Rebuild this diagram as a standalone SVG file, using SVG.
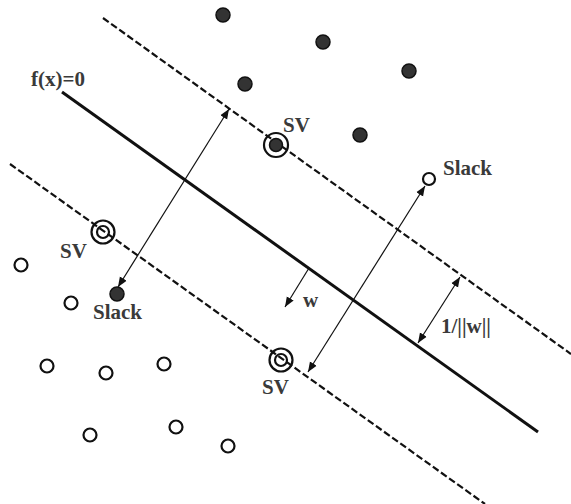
<svg xmlns="http://www.w3.org/2000/svg" width="571" height="504" viewBox="0 0 571 504">
<defs>
<marker id="ah" viewBox="0 0 10 10" refX="10" refY="5" markerWidth="10" markerHeight="10" markerUnits="userSpaceOnUse" orient="auto-start-reverse">
<path d="M0,1 L10,5 L0,9 Z" fill="#111"/>
</marker>
<style>
.lbl{font-family:"Liberation Serif","Times New Roman",serif;font-weight:bold;font-size:21px;fill:#3a3a3a}
.dash{stroke:#111;stroke-width:2.2;stroke-dasharray:7,3;fill:none}
.solid{stroke:#111;stroke-width:3;fill:none}
.arr{stroke:#111;stroke-width:1.2;fill:none}
.pos{fill:#333;stroke:#111;stroke-width:1.5}
.neg{fill:#fff;stroke:#111;stroke-width:2.2}
.ring{fill:none;stroke:#111;stroke-width:2.2}
</style>
</defs>
<g id="lines">
<line class="dash" x1="103" y1="18" x2="571" y2="354"/>
<line class="solid" x1="62" y1="92" x2="538" y2="432"/>
<line class="dash" x1="10" y1="164" x2="485" y2="504"/>
</g>
<g id="connectors">
<line class="arr" x1="229" y1="109" x2="118" y2="287" marker-start="url(#ah)" marker-end="url(#ah)"/>
<line class="arr" x1="425" y1="186" x2="308" y2="372" marker-start="url(#ah)" marker-end="url(#ah)"/>
<line class="arr" x1="309" y1="268" x2="285" y2="307" marker-end="url(#ah)"/>
<line class="arr" x1="460" y1="277" x2="418" y2="343" marker-start="url(#ah)" marker-end="url(#ah)"/>
</g>
<g id="positives">
<circle class="pos" cx="223" cy="15" r="7"/>
<circle class="pos" cx="323" cy="42" r="7"/>
<circle class="pos" cx="409" cy="71" r="7"/>
<circle class="pos" cx="245" cy="84" r="7"/>
<circle class="pos" cx="360" cy="135" r="7"/>
<circle class="pos" cx="117" cy="294" r="7"/>
</g>
<g id="negatives">
<circle class="neg" cx="429" cy="179" r="6"/>
<circle class="neg" cx="21" cy="265" r="6.5"/>
<circle class="neg" cx="71" cy="303" r="6.5"/>
<circle class="neg" cx="47" cy="366" r="6.5"/>
<circle class="neg" cx="106" cy="373" r="6.5"/>
<circle class="neg" cx="164" cy="364" r="6.5"/>
<circle class="neg" cx="90" cy="435" r="6.5"/>
<circle class="neg" cx="176" cy="427" r="6.5"/>
<circle class="neg" cx="228" cy="446" r="6.5"/>
</g>
<g id="sv-top">
<circle class="ring" cx="276" cy="145" r="12"/>
<circle class="pos" cx="276" cy="145" r="6.5"/>
</g>
<g id="sv-left">
<circle class="ring" cx="103" cy="232" r="11.5"/>
<circle class="ring" cx="103" cy="232" r="6"/>
</g>
<g id="sv-bottom">
<circle class="ring" cx="281" cy="360" r="11.5"/>
<circle class="ring" cx="281" cy="360" r="6"/>
</g>
<g id="labels">
<text class="lbl" x="31" y="86">f(x)=0</text>
<text class="lbl" x="283" y="132">SV</text>
<text class="lbl" x="443" y="175">Slack</text>
<text class="lbl" x="60" y="258">SV</text>
<text class="lbl" x="93" y="319">Slack</text>
<text class="lbl" x="303" y="307">w</text>
<text class="lbl" x="441" y="333">1/||w||</text>
<text class="lbl" x="262" y="394">SV</text>
</g>
</svg>
